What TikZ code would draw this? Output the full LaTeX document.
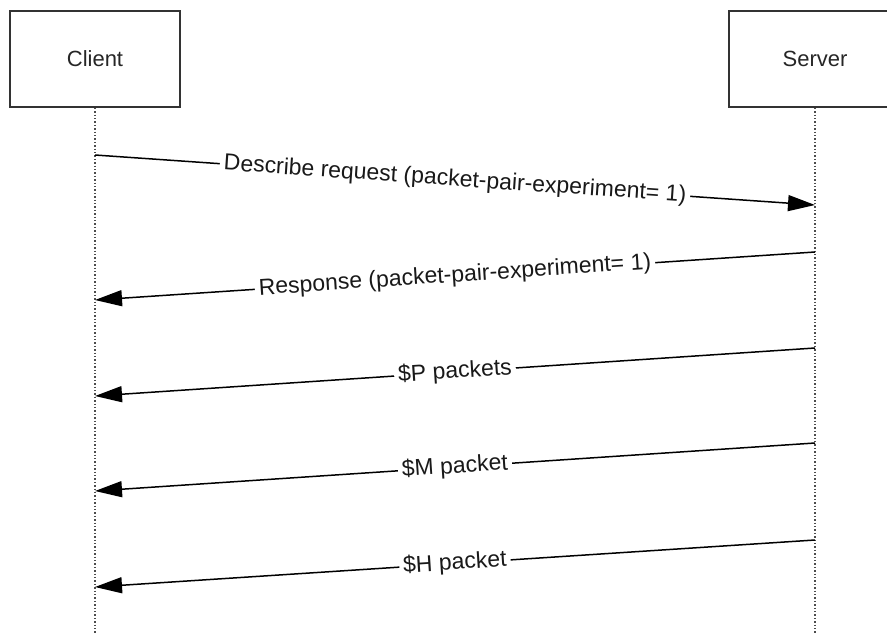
\documentclass[tikz,border=0pt]{standalone}
\usepackage{fontspec}
\setmainfont{Liberation Sans}
\usetikzlibrary{arrows.meta,positioning}

\begin{document}
\begin{tikzpicture}[x=1pt,y=-1pt,>={Triangle[length=27pt,width=16pt]},
  actor/.style={draw=black!80,line width=1.6pt,minimum width=170pt,minimum height=96pt,
    text=black!85,font=\fontsize{22}{26}\selectfont},
  life/.style={dotted,line width=1.4pt,black!70},
  msg/.style={->,line width=1.5pt},
  lbl/.style={sloped,fill=white,inner sep=4pt,text=black!90,font=\fontsize{23}{26}\selectfont}]
\clip (0,0) rectangle (887,633);
% actors and lifelines
\node[actor] (client) at (95,59) {Client};
\node[actor,minimum width=172pt] (server) at (815,59) {Server};
\coordinate (cend) at (95,633);
\coordinate (send) at (815,633);
\draw[life] (client.south) -- (cend);
\draw[life] (server.south) -- (send);
% message end points
\coordinate (c1) at (95,155);\coordinate (s1) at (815,205);
\coordinate (s2) at (815,252);\coordinate (c2) at (95,300);
\coordinate (s3) at (815,348);\coordinate (c3) at (95,396);
\coordinate (s4) at (815,443);\coordinate (c4) at (95,491);
\coordinate (s5) at (815,540);\coordinate (c5) at (95,587);
% messages
\draw[msg] (c1) -- node[lbl]{Describe request (packet-pair-experiment= 1)} (s1);
\draw[msg] (s2) -- node[lbl]{Response (packet-pair-experiment= 1)} (c2);
\draw[msg] (s3) -- node[lbl]{\$P packets} (c3);
\draw[msg] (s4) -- node[lbl]{\$M packet} (c4);
\draw[msg] (s5) -- node[lbl]{\$H packet} (c5);
\end{tikzpicture}
\end{document}
